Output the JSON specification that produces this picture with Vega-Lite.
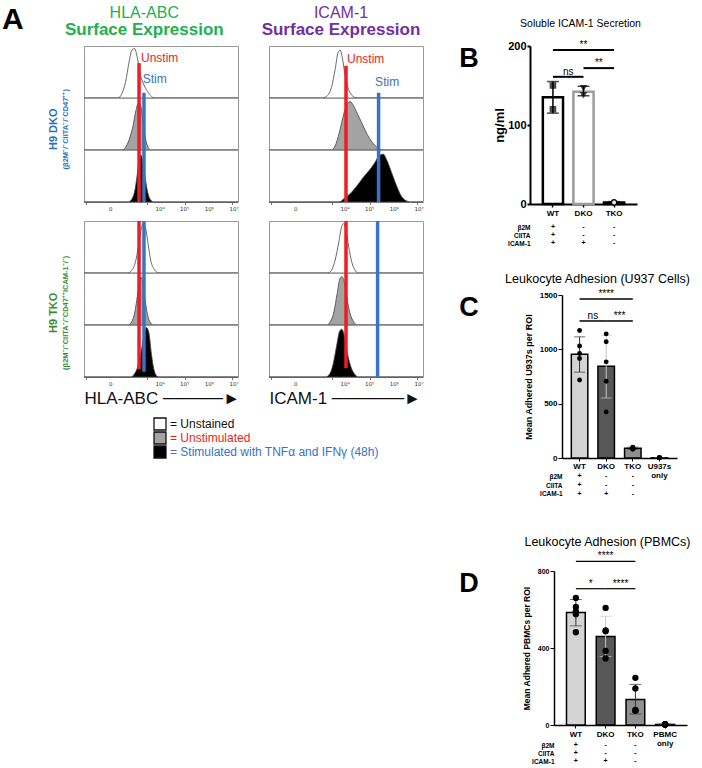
{
 "$schema": "https://vega.github.io/schema/vega-lite/v6.json",
 "background": "white",
 "padding": {"left": 2, "top": 4, "right": 0, "bottom": 0},
 "config": {
  "font": "Liberation Sans",
  "view": {"stroke": null},
  "axis": {"grid": false, "domainColor": "#000", "tickColor": "#000", "labelColor": "#000", "titleColor": "#000", "labelFont": "Liberation Sans", "titleFont": "Liberation Sans"},
  "title": {"font": "Liberation Sans", "color": "#000", "subtitleFont": "Liberation Sans"}
 },
 "spacing": 32,
 "resolve": {"scale": {"x": "independent", "y": "independent"}},
 "hconcat": [
  {
   "title": {"text": "A", "orient": "left", "angle": 0, "anchor": "end", "align": "right", "baseline": "top", "fontSize": 30, "fontWeight": "bold", "offset": 3},
   "spacing": 16,
   "hconcat": [
    {
     "title": {"text": "HLA-ABC", "subtitle": "Surface Expression", "fontSize": 16, "fontWeight": "normal", "color": "#23b14d", "subtitleFontSize": 17, "subtitleFontWeight": "bold", "subtitleColor": "#23b14d", "subtitlePadding": 1, "offset": 8, "anchor": "middle", "dx": -2},
     "spacing": 5,
     "vconcat": [
      {
       "data": {"name": "hla_dko"},
       "title": {"text": "H9 DKO", "subtitle": "(β2M⁻/⁻CIITA⁻/⁻CD47⁺⁺)", "orient": "left", "anchor": "middle", "fontSize": 11, "fontWeight": "bold", "color": "#2a70c0", "subtitleFontSize": 7.5, "subtitleFontWeight": "bold", "subtitleColor": "#2a70c0", "offset": 12},
       "spacing": {"row": 0},
       "bounds": "flush",
       "facet": {"row": {"field": "cond", "type": "nominal", "sort": ["Unstained", "Unstimulated", "Stimulated"], "header": null, "title": null}},
       "spec": {
        "width": 154, "height": 52,
        "view": {"stroke": "#9a9a9a", "strokeWidth": 1},
        "layer": [
         {"transform": [{"filter": "datum.kind === 'c'"}],
          "mark": {"type": "area", "interpolate": "monotone", "stroke": "#444", "strokeWidth": 0.8},
          "encoding": {
           "x": {"field": "u", "type": "quantitative", "scale": {"domain": [-1.08, 5.16], "nice": false, "zero": false},
                 "axis": {"values": [-1,-0.85,-0.7,-0.55,-0.4,-0.25,-0.1,0,0.15,0.3,0.45,0.6,0.75,0.9,1.0,1.3,1.48,1.6,1.7,1.78,1.85,1.9,1.95,2,2.3,2.48,2.6,2.7,2.78,2.85,2.9,2.95,3,3.3,3.48,3.6,3.7,3.78,3.85,3.9,3.95,4,4.3,4.48,4.6,4.7,4.78,4.85,4.9,4.95,5],
                  "labels": false, "tickSize": 2.5, "tickColor": "#333", "tickWidth": 0.7, "domain": false, "title": null}},
           "y": {"field": "d", "type": "quantitative", "scale": {"domain": [0, 1], "nice": false}, "axis": null},
           "fill": {"field": "cond", "type": "nominal", "scale": {"domain": ["Unstained", "Unstimulated", "Stimulated"], "range": ["#ffffff", "#a3a3a3", "#000000"]},
                    "legend": {"title": null, "orient": "none", "legendX": 69, "legendY": 371, "direction": "vertical", "labelExpr": "datum.label === 'Stimulated' ? '= Stimulated with TNFα and IFNγ (48h)' : '= ' + datum.label", "labelFontSize": 12, "labelFont": "Liberation Sans", "labelLimit": 0, "symbolType": "square", "symbolSize": 144, "symbolStrokeWidth": 1.3, "symbolStrokeColor": "#111", "rowPadding": 0, "clipHeight": 14, "labelOffset": 3, "padding": 0,
                               "encode": {"labels": {"update": {"fill": {"signal": "datum.value === 'Unstimulated' ? '#ee1c24' : datum.value === 'Stimulated' ? '#3a72c4' : '#111'"}}}}}},
           "strokeDash": {"field": "cond", "type": "nominal", "scale": {"domain": ["Unstained", "Unstimulated", "Stimulated"], "range": [[2, 1.5], [1, 0], [1, 0]]},
                    "legend": {"title": null, "orient": "none", "legendX": 69, "legendY": 371, "direction": "vertical", "labelExpr": "datum.label === 'Stimulated' ? '= Stimulated with TNFα and IFNγ (48h)' : '= ' + datum.label", "labelFontSize": 12, "labelFont": "Liberation Sans", "labelLimit": 0, "symbolType": "square", "symbolSize": 144, "symbolStrokeWidth": 1.3, "symbolStrokeColor": "#111", "rowPadding": 0, "clipHeight": 14, "labelOffset": 3, "padding": 0,
                               "encode": {"labels": {"update": {"fill": {"signal": "datum.value === 'Unstimulated' ? '#ee1c24' : datum.value === 'Stimulated' ? '#3a72c4' : '#111'"}}}}}}
          }},
         {"transform": [{"filter": "datum.kind === 'ru'"}], "mark": {"type": "rule", "color": "#ee1c24", "strokeWidth": 3.5},
          "encoding": {"x": {"field": "u", "type": "quantitative"}, "y": {"field": "lo", "type": "quantitative"}, "y2": {"field": "hi"}}},
         {"transform": [{"filter": "datum.kind === 'rs'"}], "mark": {"type": "rule", "color": "#3a72c4", "strokeWidth": 3.5},
          "encoding": {"x": {"field": "u", "type": "quantitative"}, "y": {"field": "lo", "type": "quantitative"}, "y2": {"field": "hi"}}},
         {"transform": [{"filter": "datum.kind === 'lu'"}], "mark": {"type": "text", "align": "left", "baseline": "middle", "fontSize": 12, "color": "#ee1c24"},
          "encoding": {"x": {"field": "u", "type": "quantitative"}, "y": {"field": "d", "type": "quantitative"}, "text": {"field": "t"}}},
         {"transform": [{"filter": "datum.kind === 'ls'"}], "mark": {"type": "text", "align": "left", "baseline": "middle", "fontSize": 12, "color": "#3a72c4"},
          "encoding": {"x": {"field": "u", "type": "quantitative"}, "y": {"field": "d", "type": "quantitative"}, "text": {"field": "t"}}},
         {"transform": [{"filter": "datum.kind === 'tl'"}], "mark": {"type": "text", "align": "center", "baseline": "top", "dy": 5, "fontSize": 5.5, "font": "DejaVu Sans", "color": "#333"},
          "encoding": {"x": {"field": "u", "type": "quantitative"}, "y": {"datum": 0, "type": "quantitative"}, "text": {"field": "t"}}}
        ]
       }
      },
      {
       "data": {"name": "hla_tko"},
       "title": {"text": "H9 TKO", "subtitle": "(β2M⁻/⁻CIITA⁻/⁻CD47⁺⁺ICAM-1⁻/⁻)", "orient": "left", "anchor": "middle", "fontSize": 11, "fontWeight": "bold", "color": "#3b8c2f", "subtitleFontSize": 7.5, "subtitleFontWeight": "bold", "subtitleColor": "#3b8c2f", "offset": 12},
       "spacing": {"row": 0},
       "bounds": "flush",
       "facet": {"row": {"field": "cond", "type": "nominal", "sort": ["Unstained", "Unstimulated", "Stimulated"], "header": null, "title": null}},
       "spec": {
        "width": 154, "height": 52,
        "view": {"stroke": "#9a9a9a", "strokeWidth": 1},
        "layer": [
         {"transform": [{"filter": "datum.kind === 'c'"}],
          "mark": {"type": "area", "interpolate": "monotone", "stroke": "#444", "strokeWidth": 0.8},
          "encoding": {
           "x": {"field": "u", "type": "quantitative", "scale": {"domain": [-1.08, 5.16], "nice": false, "zero": false},
                 "axis": {"values": [-1,-0.85,-0.7,-0.55,-0.4,-0.25,-0.1,0,0.15,0.3,0.45,0.6,0.75,0.9,1.0,1.3,1.48,1.6,1.7,1.78,1.85,1.9,1.95,2,2.3,2.48,2.6,2.7,2.78,2.85,2.9,2.95,3,3.3,3.48,3.6,3.7,3.78,3.85,3.9,3.95,4,4.3,4.48,4.6,4.7,4.78,4.85,4.9,4.95,5],
                  "labels": false, "tickSize": 2.5, "tickColor": "#333", "tickWidth": 0.7, "domain": false,
                  "title": "HLA-ABC  ─────►", "titleFontSize": 17, "titleFontWeight": "normal", "titleAnchor": "start", "titlePadding": 11, "titleColor": "#111"}},
           "y": {"field": "d", "type": "quantitative", "scale": {"domain": [0, 1], "nice": false}, "axis": null},
           "fill": {"field": "cond", "type": "nominal", "scale": {"domain": ["Unstained", "Unstimulated", "Stimulated"], "range": ["#ffffff", "#a3a3a3", "#000000"]},
                    "legend": {"title": null, "orient": "none", "legendX": 69, "legendY": 371, "direction": "vertical", "labelExpr": "datum.label === 'Stimulated' ? '= Stimulated with TNFα and IFNγ (48h)' : '= ' + datum.label", "labelFontSize": 12, "labelFont": "Liberation Sans", "labelLimit": 0, "symbolType": "square", "symbolSize": 144, "symbolStrokeWidth": 1.3, "symbolStrokeColor": "#111", "rowPadding": 0, "clipHeight": 14, "labelOffset": 3, "padding": 0,
                               "encode": {"labels": {"update": {"fill": {"signal": "datum.value === 'Unstimulated' ? '#ee1c24' : datum.value === 'Stimulated' ? '#3a72c4' : '#111'"}}}}}},
           "strokeDash": {"field": "cond", "type": "nominal", "scale": {"domain": ["Unstained", "Unstimulated", "Stimulated"], "range": [[2, 1.5], [1, 0], [1, 0]]},
                    "legend": {"title": null, "orient": "none", "legendX": 69, "legendY": 371, "direction": "vertical", "labelExpr": "datum.label === 'Stimulated' ? '= Stimulated with TNFα and IFNγ (48h)' : '= ' + datum.label", "labelFontSize": 12, "labelFont": "Liberation Sans", "labelLimit": 0, "symbolType": "square", "symbolSize": 144, "symbolStrokeWidth": 1.3, "symbolStrokeColor": "#111", "rowPadding": 0, "clipHeight": 14, "labelOffset": 3, "padding": 0,
                               "encode": {"labels": {"update": {"fill": {"signal": "datum.value === 'Unstimulated' ? '#ee1c24' : datum.value === 'Stimulated' ? '#3a72c4' : '#111'"}}}}}}
          }},
         {"transform": [{"filter": "datum.kind === 'ru'"}], "mark": {"type": "rule", "color": "#ee1c24", "strokeWidth": 3.5},
          "encoding": {"x": {"field": "u", "type": "quantitative"}, "y": {"field": "lo", "type": "quantitative"}, "y2": {"field": "hi"}}},
         {"transform": [{"filter": "datum.kind === 'rs'"}], "mark": {"type": "rule", "color": "#3a72c4", "strokeWidth": 3.5},
          "encoding": {"x": {"field": "u", "type": "quantitative"}, "y": {"field": "lo", "type": "quantitative"}, "y2": {"field": "hi"}}},
         {"transform": [{"filter": "datum.kind === 'tl'"}], "mark": {"type": "text", "align": "center", "baseline": "top", "dy": 5, "fontSize": 5.5, "font": "DejaVu Sans", "color": "#333"},
          "encoding": {"x": {"field": "u", "type": "quantitative"}, "y": {"datum": 0, "type": "quantitative"}, "text": {"field": "t"}}}
        ]
       }
      }
     ]
    },
    {
     "title": {"text": "ICAM-1", "subtitle": "Surface Expression", "fontSize": 16, "fontWeight": "normal", "color": "#7030a0", "subtitleFontSize": 17, "subtitleFontWeight": "bold", "subtitleColor": "#7030a0", "subtitlePadding": 1, "offset": 8, "anchor": "middle", "dx": -5},
     "spacing": 5,
     "vconcat": [
      {
       "data": {"name": "icam_dko"},
       "spacing": {"row": 0},
       "bounds": "flush",
       "facet": {"row": {"field": "cond", "type": "nominal", "sort": ["Unstained", "Unstimulated", "Stimulated"], "header": null, "title": null}},
       "spec": {
        "width": 154, "height": 52,
        "view": {"stroke": "#9a9a9a", "strokeWidth": 1},
        "layer": [
         {"transform": [{"filter": "datum.kind === 'c'"}],
          "mark": {"type": "area", "interpolate": "monotone", "stroke": "#444", "strokeWidth": 0.8},
          "encoding": {
           "x": {"field": "u", "type": "quantitative", "scale": {"domain": [-1.08, 5.16], "nice": false, "zero": false},
                 "axis": {"values": [-1,-0.85,-0.7,-0.55,-0.4,-0.25,-0.1,0,0.15,0.3,0.45,0.6,0.75,0.9,1.0,1.3,1.48,1.6,1.7,1.78,1.85,1.9,1.95,2,2.3,2.48,2.6,2.7,2.78,2.85,2.9,2.95,3,3.3,3.48,3.6,3.7,3.78,3.85,3.9,3.95,4,4.3,4.48,4.6,4.7,4.78,4.85,4.9,4.95,5],
                  "labels": false, "tickSize": 2.5, "tickColor": "#333", "tickWidth": 0.7, "domain": false, "title": null}},
           "y": {"field": "d", "type": "quantitative", "scale": {"domain": [0, 1], "nice": false}, "axis": null},
           "fill": {"field": "cond", "type": "nominal", "scale": {"domain": ["Unstained", "Unstimulated", "Stimulated"], "range": ["#ffffff", "#a3a3a3", "#000000"]},
                    "legend": {"title": null, "orient": "none", "legendX": 69, "legendY": 371, "direction": "vertical", "labelExpr": "datum.label === 'Stimulated' ? '= Stimulated with TNFα and IFNγ (48h)' : '= ' + datum.label", "labelFontSize": 12, "labelFont": "Liberation Sans", "labelLimit": 0, "symbolType": "square", "symbolSize": 144, "symbolStrokeWidth": 1.3, "symbolStrokeColor": "#111", "rowPadding": 0, "clipHeight": 14, "labelOffset": 3, "padding": 0,
                               "encode": {"labels": {"update": {"fill": {"signal": "datum.value === 'Unstimulated' ? '#ee1c24' : datum.value === 'Stimulated' ? '#3a72c4' : '#111'"}}}}}},
           "strokeDash": {"field": "cond", "type": "nominal", "scale": {"domain": ["Unstained", "Unstimulated", "Stimulated"], "range": [[2, 1.5], [1, 0], [1, 0]]},
                    "legend": {"title": null, "orient": "none", "legendX": 69, "legendY": 371, "direction": "vertical", "labelExpr": "datum.label === 'Stimulated' ? '= Stimulated with TNFα and IFNγ (48h)' : '= ' + datum.label", "labelFontSize": 12, "labelFont": "Liberation Sans", "labelLimit": 0, "symbolType": "square", "symbolSize": 144, "symbolStrokeWidth": 1.3, "symbolStrokeColor": "#111", "rowPadding": 0, "clipHeight": 14, "labelOffset": 3, "padding": 0,
                               "encode": {"labels": {"update": {"fill": {"signal": "datum.value === 'Unstimulated' ? '#ee1c24' : datum.value === 'Stimulated' ? '#3a72c4' : '#111'"}}}}}}
          }},
         {"transform": [{"filter": "datum.kind === 'ru'"}], "mark": {"type": "rule", "color": "#ee1c24", "strokeWidth": 3.5},
          "encoding": {"x": {"field": "u", "type": "quantitative"}, "y": {"field": "lo", "type": "quantitative"}, "y2": {"field": "hi"}}},
         {"transform": [{"filter": "datum.kind === 'rs'"}], "mark": {"type": "rule", "color": "#3a72c4", "strokeWidth": 3.5},
          "encoding": {"x": {"field": "u", "type": "quantitative"}, "y": {"field": "lo", "type": "quantitative"}, "y2": {"field": "hi"}}},
         {"transform": [{"filter": "datum.kind === 'lu'"}], "mark": {"type": "text", "align": "left", "baseline": "middle", "fontSize": 12, "color": "#ee1c24"},
          "encoding": {"x": {"field": "u", "type": "quantitative"}, "y": {"field": "d", "type": "quantitative"}, "text": {"field": "t"}}},
         {"transform": [{"filter": "datum.kind === 'ls'"}], "mark": {"type": "text", "align": "left", "baseline": "middle", "fontSize": 12, "color": "#3a72c4"},
          "encoding": {"x": {"field": "u", "type": "quantitative"}, "y": {"field": "d", "type": "quantitative"}, "text": {"field": "t"}}},
         {"transform": [{"filter": "datum.kind === 'tl'"}], "mark": {"type": "text", "align": "center", "baseline": "top", "dy": 5, "fontSize": 5.5, "font": "DejaVu Sans", "color": "#333"},
          "encoding": {"x": {"field": "u", "type": "quantitative"}, "y": {"datum": 0, "type": "quantitative"}, "text": {"field": "t"}}}
        ]
       }
      },
      {
       "data": {"name": "icam_tko"},
       "spacing": {"row": 0},
       "bounds": "flush",
       "facet": {"row": {"field": "cond", "type": "nominal", "sort": ["Unstained", "Unstimulated", "Stimulated"], "header": null, "title": null}},
       "spec": {
        "width": 154, "height": 52,
        "view": {"stroke": "#9a9a9a", "strokeWidth": 1},
        "layer": [
         {"transform": [{"filter": "datum.kind === 'c'"}],
          "mark": {"type": "area", "interpolate": "monotone", "stroke": "#444", "strokeWidth": 0.8},
          "encoding": {
           "x": {"field": "u", "type": "quantitative", "scale": {"domain": [-1.08, 5.16], "nice": false, "zero": false},
                 "axis": {"values": [-1,-0.85,-0.7,-0.55,-0.4,-0.25,-0.1,0,0.15,0.3,0.45,0.6,0.75,0.9,1.0,1.3,1.48,1.6,1.7,1.78,1.85,1.9,1.95,2,2.3,2.48,2.6,2.7,2.78,2.85,2.9,2.95,3,3.3,3.48,3.6,3.7,3.78,3.85,3.9,3.95,4,4.3,4.48,4.6,4.7,4.78,4.85,4.9,4.95,5],
                  "labels": false, "tickSize": 2.5, "tickColor": "#333", "tickWidth": 0.7, "domain": false,
                  "title": "ICAM-1 ──────►", "titleFontSize": 17, "titleFontWeight": "normal", "titleAnchor": "start", "titlePadding": 11, "titleColor": "#111"}},
           "y": {"field": "d", "type": "quantitative", "scale": {"domain": [0, 1], "nice": false}, "axis": null},
           "fill": {"field": "cond", "type": "nominal", "scale": {"domain": ["Unstained", "Unstimulated", "Stimulated"], "range": ["#ffffff", "#a3a3a3", "#000000"]},
                    "legend": {"title": null, "orient": "none", "legendX": 69, "legendY": 371, "direction": "vertical", "labelExpr": "datum.label === 'Stimulated' ? '= Stimulated with TNFα and IFNγ (48h)' : '= ' + datum.label", "labelFontSize": 12, "labelFont": "Liberation Sans", "labelLimit": 0, "symbolType": "square", "symbolSize": 144, "symbolStrokeWidth": 1.3, "symbolStrokeColor": "#111", "rowPadding": 0, "clipHeight": 14, "labelOffset": 3, "padding": 0,
                               "encode": {"labels": {"update": {"fill": {"signal": "datum.value === 'Unstimulated' ? '#ee1c24' : datum.value === 'Stimulated' ? '#3a72c4' : '#111'"}}}}}},
           "strokeDash": {"field": "cond", "type": "nominal", "scale": {"domain": ["Unstained", "Unstimulated", "Stimulated"], "range": [[2, 1.5], [1, 0], [1, 0]]},
                    "legend": {"title": null, "orient": "none", "legendX": 69, "legendY": 371, "direction": "vertical", "labelExpr": "datum.label === 'Stimulated' ? '= Stimulated with TNFα and IFNγ (48h)' : '= ' + datum.label", "labelFontSize": 12, "labelFont": "Liberation Sans", "labelLimit": 0, "symbolType": "square", "symbolSize": 144, "symbolStrokeWidth": 1.3, "symbolStrokeColor": "#111", "rowPadding": 0, "clipHeight": 14, "labelOffset": 3, "padding": 0,
                               "encode": {"labels": {"update": {"fill": {"signal": "datum.value === 'Unstimulated' ? '#ee1c24' : datum.value === 'Stimulated' ? '#3a72c4' : '#111'"}}}}}}
          }},
         {"transform": [{"filter": "datum.kind === 'ru'"}], "mark": {"type": "rule", "color": "#ee1c24", "strokeWidth": 3.5},
          "encoding": {"x": {"field": "u", "type": "quantitative"}, "y": {"field": "lo", "type": "quantitative"}, "y2": {"field": "hi"}}},
         {"transform": [{"filter": "datum.kind === 'rs'"}], "mark": {"type": "rule", "color": "#3a72c4", "strokeWidth": 3.5},
          "encoding": {"x": {"field": "u", "type": "quantitative"}, "y": {"field": "lo", "type": "quantitative"}, "y2": {"field": "hi"}}},
         {"transform": [{"filter": "datum.kind === 'tl'"}], "mark": {"type": "text", "align": "center", "baseline": "top", "dy": 5, "fontSize": 5.5, "font": "DejaVu Sans", "color": "#333"},
          "encoding": {"x": {"field": "u", "type": "quantitative"}, "y": {"datum": 0, "type": "quantitative"}, "text": {"field": "t"}}}
        ]
       }
      }
     ]
    }
   ]
  },
  {
   "spacing": 37,
   "resolve": {"scale": {"x": "independent", "y": "independent", "shape": "independent"}},
   "vconcat": [
    {
     "spacing": 26,
     "resolve": {"scale": {"x": "independent", "y": "independent", "shape": "independent"}},
     "vconcat": [
      {
       "spacing": 13,
       "hconcat": [
        {"width": 22, "height": 26, "data": {"values": [{"t": "B"}]}, "mark": {"type": "text", "fontSize": 27, "fontWeight": "bold", "baseline": "middle", "align": "center"}, "encoding": {"text": {"field": "t", "type": "nominal"}}},
        {
         "spacing": 19,
         "bounds": "flush",
         "resolve": {"scale": {"y": "independent"}},
         "vconcat": [
          {
           "width": 107, "height": 158,
           "title": {"text": "Soluble ICAM-1 Secretion", "fontSize": 10.5, "fontWeight": "normal", "offset": 10, "anchor": "middle", "frame": "group", "dx": -3},
           "layer": [
            {"data": {"name": "B_bars"}, "mark": {"type": "bar", "fill": "white", "strokeWidth": 2.5},
             "encoding": {
              "x": {"field": "g", "type": "nominal", "scale": {"type": "band", "domain": ["WT", "DKO", "TKO"], "paddingInner": 0.34, "paddingOuter": 0.42}, "axis": {"title": null, "labelAngle": 0, "labelFontSize": 8, "labelFontWeight": "bold", "tickSize": 3, "domainWidth": 2, "tickWidth": 1.5, "labelPadding": 2}},
              "y": {"field": "mean", "type": "quantitative", "scale": {"domain": [0, 200], "nice": false}, "axis": {"values": [0, 50, 100, 150, 200], "format": "d", "title": "ng/ml", "titleFontSize": 13, "titleFontWeight": "bold", "labelFontSize": 11, "labelFontWeight": "bold", "domainWidth": 2, "tickWidth": 2, "tickSize": 3, "labelPadding": 1, "titlePadding": 1}},
              "stroke": {"condition": {"test": "datum.g === 'DKO'", "value": "#9b9b9b"}, "value": "#000"}
             }},
            {"data": {"name": "B_bars"}, "mark": {"type": "rule", "strokeWidth": 1.5, "color": "#000"},
             "encoding": {"x": {"field": "g", "type": "nominal", "title": null}, "y": {"field": "lo", "type": "quantitative"}, "y2": {"field": "hi"}}},
            {"data": {"name": "B_bars"}, "mark": {"type": "tick", "thickness": 1.5, "size": 12, "color": "#000"},
             "encoding": {"x": {"field": "g", "type": "nominal", "title": null}, "y": {"field": "lo", "type": "quantitative"}}},
            {"data": {"name": "B_bars"}, "mark": {"type": "tick", "thickness": 1.5, "size": 12, "color": "#000"},
             "encoding": {"x": {"field": "g", "type": "nominal", "title": null}, "y": {"field": "hi", "type": "quantitative"}}},
            {"data": {"name": "B_pts"}, "mark": {"type": "point", "filled": true, "size": 28, "strokeWidth": 1.3},
             "encoding": {"x": {"field": "g", "type": "nominal", "title": null}, "y": {"field": "v", "type": "quantitative"},
              "shape": {"field": "g", "type": "nominal", "scale": {"domain": ["WT", "DKO", "TKO"], "range": ["square", "triangle-down", "circle"]}, "legend": null},
              "fill": {"condition": {"test": "datum.g === 'TKO'", "value": "#fff"}, "value": "#000"}, "stroke": {"value": "#000"}}},
            {"data": {"name": "B_sig"}, "mark": {"type": "rule", "strokeWidth": 2, "color": "#000"},
             "encoding": {"x": {"field": "g1", "type": "nominal", "title": null}, "x2": {"field": "g2"}, "y": {"field": "y", "type": "quantitative"}}},
            {"data": {"name": "B_sig"}, "transform": [{"filter": "datum.g1 === 'WT' && datum.g2 === 'TKO'"}], "mark": {"type": "text", "baseline": "alphabetic", "dy": -2, "fontSize": 10},
             "encoding": {"x": {"field": "g1", "type": "nominal", "bandPosition": 2.015, "title": null}, "y": {"field": "y", "type": "quantitative"}, "text": {"field": "t"}}},
            {"data": {"name": "B_sig"}, "transform": [{"filter": "!(datum.g1 === 'WT' && datum.g2 === 'TKO')"}], "mark": {"type": "text", "baseline": "alphabetic", "dy": -2, "fontSize": 10},
             "encoding": {"x": {"field": "g1", "type": "nominal", "bandPosition": 1.258, "title": null}, "y": {"field": "y", "type": "quantitative"}, "text": {"field": "t"}}}
           ]
          },
          {
           "width": 107, "height": 24,
           "data": {"name": "tab"},
           "mark": {"type": "text", "fontSize": 7, "fontWeight": "bold"},
           "encoding": {
            "x": {"field": "g", "type": "nominal", "scale": {"type": "band", "domain": ["WT", "DKO", "TKO"], "paddingInner": 0.34, "paddingOuter": 0.42}, "axis": null},
            "y": {"field": "gene", "type": "nominal", "scale": {"domain": ["β2M", "CIITA", "ICAM-1"]}, "axis": {"title": null, "domain": false, "ticks": false, "labelFontSize": 6.5, "labelFontWeight": "bold", "labelPadding": 0}},
            "text": {"field": "s", "type": "nominal"}
           }
          }
         ]
        }
       ]
      },
      {
       "spacing": 24,
       "hconcat": [
        {"width": 22, "height": 26, "data": {"values": [{"t": "C"}]}, "mark": {"type": "text", "fontSize": 27, "fontWeight": "bold", "baseline": "middle", "align": "center"}, "encoding": {"text": {"field": "t", "type": "nominal"}}},
        {
         "spacing": 14,
         "bounds": "flush",
         "resolve": {"scale": {"y": "independent"}},
         "vconcat": [
          {
           "width": 115, "height": 163,
           "title": {"text": "Leukocyte Adhesion (U937 Cells)", "fontSize": 12.5, "fontWeight": "normal", "offset": 3, "anchor": "middle", "frame": "group", "dx": -22},
           "layer": [
            {"data": {"name": "C_bars"}, "mark": {"type": "bar", "stroke": "#000", "strokeWidth": 1.5},
             "encoding": {
              "x": {"field": "g", "type": "nominal", "scale": {"type": "band", "domain": ["WT", "DKO", "TKO", "U937s only"], "paddingInner": 0.38, "paddingOuter": 0.35}, "axis": {"title": null, "labelAngle": 0, "labelFontSize": 8, "labelFontWeight": "bold", "labelExpr": "split(datum.label, ' ')", "labelLineHeight": 9, "tickSize": 3, "domainWidth": 1.5, "labelPadding": 1}},
              "y": {"field": "mean", "type": "quantitative", "scale": {"domain": [0, 1500], "nice": false}, "axis": {"values": [0, 500, 1000, 1500], "format": "d", "title": "Mean Adhered U937s per ROI", "titleFontSize": 9, "titleFontWeight": "bold", "labelFontSize": 8, "labelFontWeight": "bold", "domainWidth": 1.5, "tickSize": 4, "labelPadding": 1, "titlePadding": 6}},
              "fill": {"condition": [{"test": "datum.g === 'WT'", "value": "#d4d4d4"}, {"test": "datum.g === 'DKO'", "value": "#575757"}], "value": "#8f8f8f"}
             }},
            {"data": {"name": "C_bars"}, "mark": {"type": "rule", "strokeWidth": 1},
             "encoding": {"x": {"field": "g", "type": "nominal", "title": null}, "y": {"field": "lo", "type": "quantitative"}, "y2": {"field": "hi"}, "stroke": {"condition": {"test": "datum.g === 'DKO'", "value": "#c8c8c8"}, "value": "#333"}}},
            {"data": {"name": "C_bars"}, "mark": {"type": "tick", "thickness": 1, "size": 11},
             "encoding": {"x": {"field": "g", "type": "nominal", "title": null}, "y": {"field": "lo", "type": "quantitative"}, "color": {"condition": {"test": "datum.g === 'DKO'", "value": "#c8c8c8"}, "value": "#333"}}},
            {"data": {"name": "C_bars"}, "mark": {"type": "tick", "thickness": 1, "size": 11},
             "encoding": {"x": {"field": "g", "type": "nominal", "title": null}, "y": {"field": "hi", "type": "quantitative"}, "color": {"condition": {"test": "datum.g === 'DKO'", "value": "#c8c8c8"}, "value": "#333"}}},
            {"data": {"name": "C_pts"}, "mark": {"type": "circle", "size": 24, "color": "#000", "opacity": 1},
             "encoding": {"x": {"field": "g", "type": "nominal", "title": null}, "y": {"field": "v", "type": "quantitative"}}},
            {"data": {"name": "C_sig"}, "mark": {"type": "rule", "strokeWidth": 1.5, "color": "#000"},
             "encoding": {"x": {"field": "g1", "type": "nominal", "title": null}, "x2": {"field": "g2"}, "y": {"field": "y", "type": "quantitative"}}},
            {"data": {"name": "C_sig"}, "transform": [{"filter": "datum.g1 === 'WT' && datum.g2 === 'TKO'"}], "mark": {"type": "text", "baseline": "alphabetic", "dy": -2, "fontSize": 10},
             "encoding": {"x": {"field": "g1", "type": "nominal", "bandPosition": 2.113, "title": null}, "y": {"field": "y", "type": "quantitative"}, "text": {"field": "t"}}},
            {"data": {"name": "C_sig"}, "transform": [{"filter": "!(datum.g1 === 'WT' && datum.g2 === 'TKO')"}], "mark": {"type": "text", "baseline": "alphabetic", "dy": -2, "fontSize": 10},
             "encoding": {"x": {"field": "g1", "type": "nominal", "bandPosition": 1.306, "title": null}, "y": {"field": "y", "type": "quantitative"}, "text": {"field": "t"}}}
           ]
          },
          {
           "width": 115, "height": 26,
           "data": {"name": "tab"},
           "mark": {"type": "text", "fontSize": 7, "fontWeight": "bold"},
           "encoding": {
            "x": {"field": "g", "type": "nominal", "scale": {"type": "band", "domain": ["WT", "DKO", "TKO", "U937s only"], "paddingInner": 0.38, "paddingOuter": 0.35}, "axis": null},
            "y": {"field": "gene", "type": "nominal", "scale": {"domain": ["β2M", "CIITA", "ICAM-1"]}, "axis": {"title": null, "domain": false, "ticks": false, "labelFontSize": 6.5, "labelFontWeight": "bold", "labelPadding": 0}},
            "text": {"field": "s", "type": "nominal"}
           }
          }
         ]
        }
       ]
      }
     ]
    },
    {
     "spacing": 42,
     "hconcat": [
      {"width": 22, "height": 26, "data": {"values": [{"t": "D"}]}, "mark": {"type": "text", "fontSize": 27, "fontWeight": "bold", "baseline": "middle", "align": "center"}, "encoding": {"text": {"field": "t", "type": "nominal"}}},
      {
       "spacing": 16,
       "bounds": "flush",
       "resolve": {"scale": {"y": "independent"}},
       "vconcat": [
        {
         "width": 133, "height": 154,
         "title": {"text": "Leukocyte Adhesion (PBMCs)", "fontSize": 12.5, "fontWeight": "normal", "offset": 3, "anchor": "middle", "frame": "group", "dx": -13},
         "layer": [
          {"data": {"name": "D_bars"}, "mark": {"type": "bar", "stroke": "#000", "strokeWidth": 1.5},
           "encoding": {
            "x": {"field": "g", "type": "nominal", "scale": {"type": "band", "domain": ["WT", "DKO", "TKO", "PBMC only"], "paddingInner": 0.37, "paddingOuter": 0.42}, "axis": {"title": null, "labelAngle": 0, "labelFontSize": 8, "labelFontWeight": "bold", "labelExpr": "split(datum.label, ' ')", "labelLineHeight": 9, "tickSize": 3, "domainWidth": 1.5, "labelPadding": 2}},
            "y": {"field": "mean", "type": "quantitative", "scale": {"domain": [0, 800], "nice": false}, "axis": {"values": [0, 200, 400, 600, 800], "format": "d", "title": "Mean Adhered PBMCs per ROI", "titleFontSize": 8.5, "titleFontWeight": "bold", "labelFontSize": 7, "labelFontWeight": "bold", "domainWidth": 1.5, "tickSize": 4, "labelPadding": 1, "titlePadding": 6}},
            "fill": {"condition": [{"test": "datum.g === 'WT'", "value": "#d4d4d4"}, {"test": "datum.g === 'DKO'", "value": "#575757"}], "value": "#8f8f8f"}
           }},
          {"data": {"name": "D_bars"}, "mark": {"type": "rule", "strokeWidth": 1},
           "encoding": {"x": {"field": "g", "type": "nominal", "title": null}, "y": {"field": "lo", "type": "quantitative"}, "y2": {"field": "hi"}, "stroke": {"condition": {"test": "datum.g === 'DKO'", "value": "#c8c8c8"}, "value": "#333"}}},
          {"data": {"name": "D_bars"}, "mark": {"type": "tick", "thickness": 1, "size": 12},
           "encoding": {"x": {"field": "g", "type": "nominal", "title": null}, "y": {"field": "lo", "type": "quantitative"}, "color": {"condition": {"test": "datum.g === 'DKO'", "value": "#c8c8c8"}, "value": "#333"}}},
          {"data": {"name": "D_bars"}, "mark": {"type": "tick", "thickness": 1, "size": 12},
           "encoding": {"x": {"field": "g", "type": "nominal", "title": null}, "y": {"field": "hi", "type": "quantitative"}, "color": {"condition": {"test": "datum.g === 'DKO'", "value": "#c8c8c8"}, "value": "#333"}}},
          {"data": {"name": "D_pts"}, "mark": {"type": "circle", "size": 40, "color": "#000", "opacity": 1},
           "encoding": {"x": {"field": "g", "type": "nominal", "title": null}, "y": {"field": "v", "type": "quantitative"}}},
          {"data": {"name": "D_sig"}, "mark": {"type": "rule", "strokeWidth": 1.2, "color": "#000"},
           "encoding": {"x": {"field": "g1", "type": "nominal", "title": null}, "x2": {"field": "g2"}, "y": {"field": "y", "type": "quantitative"}}},
          {"data": {"name": "D_sig"}, "transform": [{"filter": "datum.g1 === 'WT' && datum.g2 === 'TKO'"}], "mark": {"type": "text", "baseline": "alphabetic", "dy": -2, "fontSize": 10, "color": "#000"},
           "encoding": {"x": {"field": "g1", "type": "nominal", "bandPosition": 2.087, "title": null}, "y": {"field": "y", "type": "quantitative"}, "text": {"field": "t"}}},
          {"data": {"name": "D_sig"}, "transform": [{"filter": "!(datum.g1 === 'WT' && datum.g2 === 'TKO')"}], "mark": {"type": "text", "baseline": "alphabetic", "dy": -2, "fontSize": 10, "color": "#000"},
           "encoding": {"x": {"field": "g1", "type": "nominal", "bandPosition": 1.294, "title": null}, "y": {"field": "y", "type": "quantitative"}, "text": {"field": "t"}}}
         ]
        },
        {
         "width": 133, "height": 24,
         "data": {"name": "tab"},
         "mark": {"type": "text", "fontSize": 7, "fontWeight": "bold"},
         "encoding": {
          "x": {"field": "g", "type": "nominal", "scale": {"type": "band", "domain": ["WT", "DKO", "TKO", "PBMC only"], "paddingInner": 0.37, "paddingOuter": 0.42}, "axis": null},
          "y": {"field": "gene", "type": "nominal", "scale": {"domain": ["β2M", "CIITA", "ICAM-1"]}, "axis": {"title": null, "domain": false, "ticks": false, "labelFontSize": 6.5, "labelFontWeight": "bold", "labelPadding": 0}},
          "text": {"field": "s", "type": "nominal"}
         }
        }
       ]
      }
     ]
    }
   ]
  }
 ],
 "datasets": {
  "hla_dko": [
   {"kind":"c","cond":"Unstained","u":-1.08,"d":0},{"kind":"c","cond":"Unstained","u":0.3,"d":0},{"kind":"c","cond":"Unstained","u":0.45,"d":0.08},{"kind":"c","cond":"Unstained","u":0.6,"d":0.3},{"kind":"c","cond":"Unstained","u":0.75,"d":0.7},{"kind":"c","cond":"Unstained","u":0.87,"d":0.93},{"kind":"c","cond":"Unstained","u":0.97,"d":0.95},{"kind":"c","cond":"Unstained","u":1.07,"d":0.8},{"kind":"c","cond":"Unstained","u":1.2,"d":0.45},{"kind":"c","cond":"Unstained","u":1.35,"d":0.25},{"kind":"c","cond":"Unstained","u":1.5,"d":0.12},{"kind":"c","cond":"Unstained","u":1.65,"d":0.03},{"kind":"c","cond":"Unstained","u":1.8,"d":0},{"kind":"c","cond":"Unstained","u":5.16,"d":0},
   {"kind":"c","cond":"Unstimulated","u":-1.08,"d":0},{"kind":"c","cond":"Unstimulated","u":0.45,"d":0},{"kind":"c","cond":"Unstimulated","u":0.6,"d":0.05},{"kind":"c","cond":"Unstimulated","u":0.75,"d":0.2},{"kind":"c","cond":"Unstimulated","u":0.9,"d":0.45},{"kind":"c","cond":"Unstimulated","u":1.02,"d":0.75},{"kind":"c","cond":"Unstimulated","u":1.12,"d":0.9},{"kind":"c","cond":"Unstimulated","u":1.22,"d":0.85},{"kind":"c","cond":"Unstimulated","u":1.32,"d":0.5},{"kind":"c","cond":"Unstimulated","u":1.42,"d":0.2},{"kind":"c","cond":"Unstimulated","u":1.52,"d":0.05},{"kind":"c","cond":"Unstimulated","u":1.62,"d":0},{"kind":"c","cond":"Unstimulated","u":5.16,"d":0},
   {"kind":"c","cond":"Stimulated","u":-1.08,"d":0},{"kind":"c","cond":"Stimulated","u":0.7,"d":0},{"kind":"c","cond":"Stimulated","u":0.85,"d":0.05},{"kind":"c","cond":"Stimulated","u":0.97,"d":0.2},{"kind":"c","cond":"Stimulated","u":1.07,"d":0.5},{"kind":"c","cond":"Stimulated","u":1.15,"d":0.8},{"kind":"c","cond":"Stimulated","u":1.23,"d":0.9},{"kind":"c","cond":"Stimulated","u":1.32,"d":0.75},{"kind":"c","cond":"Stimulated","u":1.42,"d":0.4},{"kind":"c","cond":"Stimulated","u":1.52,"d":0.15},{"kind":"c","cond":"Stimulated","u":1.62,"d":0.04},{"kind":"c","cond":"Stimulated","u":1.75,"d":0},{"kind":"c","cond":"Stimulated","u":5.16,"d":0},
   {"kind":"ru","cond":"Unstained","u":1.15,"lo":0,"hi":0.67},{"kind":"ru","cond":"Unstimulated","u":1.15,"lo":0,"hi":1},{"kind":"ru","cond":"Stimulated","u":1.15,"lo":0,"hi":1},
   {"kind":"rs","cond":"Unstained","u":1.35,"lo":0,"hi":0.1},{"kind":"rs","cond":"Unstimulated","u":1.35,"lo":0,"hi":1},{"kind":"rs","cond":"Stimulated","u":1.35,"lo":0,"hi":1},
   {"kind":"lu","cond":"Unstained","u":1.23,"d":0.77,"t":"Unstim"},{"kind":"ls","cond":"Unstained","u":1.3,"d":0.37,"t":"Stim"},
   {"kind":"tl","cond":"Stimulated","u":0,"t":"0"},{"kind":"tl","cond":"Stimulated","u":2,"t":"10⁴"},{"kind":"tl","cond":"Stimulated","u":3,"t":"10⁵"},{"kind":"tl","cond":"Stimulated","u":4,"t":"10⁶"},{"kind":"tl","cond":"Stimulated","u":5,"t":"10⁷"}
  ],
  "hla_tko": [
   {"kind":"c","cond":"Unstained","u":-1.08,"d":0},{"kind":"c","cond":"Unstained","u":0.7,"d":0},{"kind":"c","cond":"Unstained","u":0.85,"d":0.05},{"kind":"c","cond":"Unstained","u":1.0,"d":0.2},{"kind":"c","cond":"Unstained","u":1.12,"d":0.5},{"kind":"c","cond":"Unstained","u":1.22,"d":0.8},{"kind":"c","cond":"Unstained","u":1.32,"d":0.95},{"kind":"c","cond":"Unstained","u":1.42,"d":0.85},{"kind":"c","cond":"Unstained","u":1.52,"d":0.55},{"kind":"c","cond":"Unstained","u":1.62,"d":0.25},{"kind":"c","cond":"Unstained","u":1.75,"d":0.08},{"kind":"c","cond":"Unstained","u":1.9,"d":0.01},{"kind":"c","cond":"Unstained","u":2.0,"d":0},{"kind":"c","cond":"Unstained","u":5.16,"d":0},
   {"kind":"c","cond":"Unstimulated","u":-1.08,"d":0},{"kind":"c","cond":"Unstimulated","u":0.7,"d":0},{"kind":"c","cond":"Unstimulated","u":0.85,"d":0.06},{"kind":"c","cond":"Unstimulated","u":0.98,"d":0.25},{"kind":"c","cond":"Unstimulated","u":1.08,"d":0.55},{"kind":"c","cond":"Unstimulated","u":1.17,"d":0.85},{"kind":"c","cond":"Unstimulated","u":1.24,"d":0.92},{"kind":"c","cond":"Unstimulated","u":1.32,"d":0.75},{"kind":"c","cond":"Unstimulated","u":1.42,"d":0.4},{"kind":"c","cond":"Unstimulated","u":1.52,"d":0.15},{"kind":"c","cond":"Unstimulated","u":1.62,"d":0.04},{"kind":"c","cond":"Unstimulated","u":1.75,"d":0},{"kind":"c","cond":"Unstimulated","u":5.16,"d":0},
   {"kind":"c","cond":"Stimulated","u":-1.08,"d":0},{"kind":"c","cond":"Stimulated","u":0.8,"d":0},{"kind":"c","cond":"Stimulated","u":0.95,"d":0.05},{"kind":"c","cond":"Stimulated","u":1.1,"d":0.2},{"kind":"c","cond":"Stimulated","u":1.22,"d":0.45},{"kind":"c","cond":"Stimulated","u":1.35,"d":0.8},{"kind":"c","cond":"Stimulated","u":1.45,"d":0.95},{"kind":"c","cond":"Stimulated","u":1.55,"d":0.85},{"kind":"c","cond":"Stimulated","u":1.65,"d":0.45},{"kind":"c","cond":"Stimulated","u":1.75,"d":0.15},{"kind":"c","cond":"Stimulated","u":1.85,"d":0.03},{"kind":"c","cond":"Stimulated","u":1.95,"d":0},{"kind":"c","cond":"Stimulated","u":5.16,"d":0},
   {"kind":"ru","cond":"Unstained","u":1.15,"lo":0,"hi":1},{"kind":"ru","cond":"Unstimulated","u":1.15,"lo":0,"hi":1},{"kind":"ru","cond":"Stimulated","u":1.15,"lo":0.15,"hi":1},
   {"kind":"rs","cond":"Unstained","u":1.35,"lo":0,"hi":1},{"kind":"rs","cond":"Unstimulated","u":1.35,"lo":0,"hi":1},{"kind":"rs","cond":"Stimulated","u":1.35,"lo":0.1,"hi":1},
   {"kind":"tl","cond":"Stimulated","u":0,"t":"0"},{"kind":"tl","cond":"Stimulated","u":2,"t":"10⁴"},{"kind":"tl","cond":"Stimulated","u":3,"t":"10⁵"},{"kind":"tl","cond":"Stimulated","u":4,"t":"10⁶"},{"kind":"tl","cond":"Stimulated","u":5,"t":"10⁷"}
  ],
  "icam_dko": [
   {"kind":"c","cond":"Unstained","u":-1.08,"d":0},{"kind":"c","cond":"Unstained","u":1.1,"d":0},{"kind":"c","cond":"Unstained","u":1.3,"d":0.05},{"kind":"c","cond":"Unstained","u":1.45,"d":0.2},{"kind":"c","cond":"Unstained","u":1.6,"d":0.55},{"kind":"c","cond":"Unstained","u":1.72,"d":0.88},{"kind":"c","cond":"Unstained","u":1.8,"d":0.92},{"kind":"c","cond":"Unstained","u":1.88,"d":0.8},{"kind":"c","cond":"Unstained","u":2.0,"d":0.45},{"kind":"c","cond":"Unstained","u":2.12,"d":0.2},{"kind":"c","cond":"Unstained","u":2.25,"d":0.07},{"kind":"c","cond":"Unstained","u":2.4,"d":0.01},{"kind":"c","cond":"Unstained","u":2.55,"d":0},{"kind":"c","cond":"Unstained","u":5.16,"d":0},
   {"kind":"c","cond":"Unstimulated","u":-1.08,"d":0},{"kind":"c","cond":"Unstimulated","u":1.45,"d":0},{"kind":"c","cond":"Unstimulated","u":1.6,"d":0.08},{"kind":"c","cond":"Unstimulated","u":1.75,"d":0.3},{"kind":"c","cond":"Unstimulated","u":1.9,"d":0.6},{"kind":"c","cond":"Unstimulated","u":2.05,"d":0.85},{"kind":"c","cond":"Unstimulated","u":2.2,"d":0.93},{"kind":"c","cond":"Unstimulated","u":2.35,"d":0.85},{"kind":"c","cond":"Unstimulated","u":2.5,"d":0.7},{"kind":"c","cond":"Unstimulated","u":2.7,"d":0.5},{"kind":"c","cond":"Unstimulated","u":2.9,"d":0.3},{"kind":"c","cond":"Unstimulated","u":3.1,"d":0.15},{"kind":"c","cond":"Unstimulated","u":3.3,"d":0.05},{"kind":"c","cond":"Unstimulated","u":3.5,"d":0},{"kind":"c","cond":"Unstimulated","u":5.16,"d":0},
   {"kind":"c","cond":"Stimulated","u":-1.08,"d":0},{"kind":"c","cond":"Stimulated","u":1.75,"d":0},{"kind":"c","cond":"Stimulated","u":2.0,"d":0.08},{"kind":"c","cond":"Stimulated","u":2.25,"d":0.18},{"kind":"c","cond":"Stimulated","u":2.5,"d":0.32},{"kind":"c","cond":"Stimulated","u":2.75,"d":0.48},{"kind":"c","cond":"Stimulated","u":3.0,"d":0.62},{"kind":"c","cond":"Stimulated","u":3.2,"d":0.75},{"kind":"c","cond":"Stimulated","u":3.4,"d":0.9},{"kind":"c","cond":"Stimulated","u":3.55,"d":0.92},{"kind":"c","cond":"Stimulated","u":3.7,"d":0.8},{"kind":"c","cond":"Stimulated","u":3.9,"d":0.55},{"kind":"c","cond":"Stimulated","u":4.1,"d":0.3},{"kind":"c","cond":"Stimulated","u":4.3,"d":0.1},{"kind":"c","cond":"Stimulated","u":4.5,"d":0.02},{"kind":"c","cond":"Stimulated","u":4.65,"d":0},{"kind":"c","cond":"Stimulated","u":5.16,"d":0},
   {"kind":"ru","cond":"Unstained","u":2.04,"lo":0,"hi":0.62},{"kind":"ru","cond":"Unstimulated","u":2.04,"lo":0,"hi":1},{"kind":"ru","cond":"Stimulated","u":2.04,"lo":0,"hi":1},
   {"kind":"rs","cond":"Unstained","u":3.36,"lo":0,"hi":0.1},{"kind":"rs","cond":"Unstimulated","u":3.36,"lo":0,"hi":1},{"kind":"rs","cond":"Stimulated","u":3.36,"lo":0,"hi":1},
   {"kind":"lu","cond":"Unstained","u":2.08,"d":0.75,"t":"Unstim"},{"kind":"ls","cond":"Unstained","u":3.22,"d":0.3,"t":"Stim"},
   {"kind":"tl","cond":"Stimulated","u":0,"t":"0"},{"kind":"tl","cond":"Stimulated","u":2,"t":"10⁴"},{"kind":"tl","cond":"Stimulated","u":3,"t":"10⁵"},{"kind":"tl","cond":"Stimulated","u":4,"t":"10⁶"},{"kind":"tl","cond":"Stimulated","u":5,"t":"10⁷"}
  ],
  "icam_tko": [
   {"kind":"c","cond":"Unstained","u":-1.08,"d":0},{"kind":"c","cond":"Unstained","u":1.3,"d":0},{"kind":"c","cond":"Unstained","u":1.45,"d":0.05},{"kind":"c","cond":"Unstained","u":1.6,"d":0.25},{"kind":"c","cond":"Unstained","u":1.75,"d":0.6},{"kind":"c","cond":"Unstained","u":1.87,"d":0.9},{"kind":"c","cond":"Unstained","u":1.95,"d":0.95},{"kind":"c","cond":"Unstained","u":2.05,"d":0.8},{"kind":"c","cond":"Unstained","u":2.15,"d":0.5},{"kind":"c","cond":"Unstained","u":2.28,"d":0.2},{"kind":"c","cond":"Unstained","u":2.4,"d":0.06},{"kind":"c","cond":"Unstained","u":2.55,"d":0},{"kind":"c","cond":"Unstained","u":5.16,"d":0},
   {"kind":"c","cond":"Unstimulated","u":-1.08,"d":0},{"kind":"c","cond":"Unstimulated","u":1.25,"d":0},{"kind":"c","cond":"Unstimulated","u":1.4,"d":0.06},{"kind":"c","cond":"Unstimulated","u":1.55,"d":0.25},{"kind":"c","cond":"Unstimulated","u":1.68,"d":0.6},{"kind":"c","cond":"Unstimulated","u":1.8,"d":0.9},{"kind":"c","cond":"Unstimulated","u":1.88,"d":0.93},{"kind":"c","cond":"Unstimulated","u":1.98,"d":0.8},{"kind":"c","cond":"Unstimulated","u":2.1,"d":0.45},{"kind":"c","cond":"Unstimulated","u":2.22,"d":0.2},{"kind":"c","cond":"Unstimulated","u":2.35,"d":0.06},{"kind":"c","cond":"Unstimulated","u":2.5,"d":0},{"kind":"c","cond":"Unstimulated","u":5.16,"d":0},
   {"kind":"c","cond":"Stimulated","u":-1.08,"d":0},{"kind":"c","cond":"Stimulated","u":1.2,"d":0},{"kind":"c","cond":"Stimulated","u":1.38,"d":0.06},{"kind":"c","cond":"Stimulated","u":1.52,"d":0.25},{"kind":"c","cond":"Stimulated","u":1.66,"d":0.6},{"kind":"c","cond":"Stimulated","u":1.78,"d":0.88},{"kind":"c","cond":"Stimulated","u":1.87,"d":0.92},{"kind":"c","cond":"Stimulated","u":1.97,"d":0.8},{"kind":"c","cond":"Stimulated","u":2.1,"d":0.45},{"kind":"c","cond":"Stimulated","u":2.25,"d":0.18},{"kind":"c","cond":"Stimulated","u":2.4,"d":0.05},{"kind":"c","cond":"Stimulated","u":2.55,"d":0},{"kind":"c","cond":"Stimulated","u":5.16,"d":0},
   {"kind":"ru","cond":"Unstained","u":2.04,"lo":0,"hi":1},{"kind":"ru","cond":"Unstimulated","u":2.04,"lo":0,"hi":1},{"kind":"ru","cond":"Stimulated","u":2.04,"lo":0.17,"hi":1},
   {"kind":"rs","cond":"Unstained","u":3.32,"lo":0,"hi":1},{"kind":"rs","cond":"Unstimulated","u":3.32,"lo":0,"hi":1},{"kind":"rs","cond":"Stimulated","u":3.32,"lo":0,"hi":1},
   {"kind":"tl","cond":"Stimulated","u":0,"t":"0"},{"kind":"tl","cond":"Stimulated","u":2,"t":"10⁴"},{"kind":"tl","cond":"Stimulated","u":3,"t":"10⁵"},{"kind":"tl","cond":"Stimulated","u":4,"t":"10⁶"},{"kind":"tl","cond":"Stimulated","u":5,"t":"10⁷"}
  ],
  "B_bars": [{"g":"WT","mean":135,"lo":115,"hi":155},{"g":"DKO","mean":142,"lo":137,"hi":149},{"g":"TKO","mean":2,"lo":1,"hi":3}],
  "B_pts": [{"g":"WT","v":150},{"g":"WT","v":120},{"g":"DKO","v":147},{"g":"DKO","v":138},{"g":"TKO","v":2},{"g":"TKO","v":2}],
  "B_sig": [{"g1":"WT","g2":"TKO","y":195,"t":"**"},{"g1":"DKO","g2":"TKO","y":172,"t":"**"},{"g1":"WT","g2":"DKO","y":161,"t":"ns"}],
  "C_bars": [{"g":"WT","mean":955,"lo":790,"hi":1115},{"g":"DKO","mean":845,"lo":552,"hi":1130},{"g":"TKO","mean":90,"lo":80,"hi":100},{"g":"U937s only","mean":2,"lo":0,"hi":4}],
  "C_pts": [{"g":"WT","v":1173},{"g":"WT","v":1030},{"g":"WT","v":961},{"g":"WT","v":915},{"g":"WT","v":718},{"g":"DKO","v":1142},{"g":"DKO","v":1070},{"g":"DKO","v":885},{"g":"DKO","v":706},{"g":"DKO","v":424},{"g":"TKO","v":100},{"g":"TKO","v":95},{"g":"TKO","v":90},{"g":"TKO","v":85},{"g":"TKO","v":80},{"g":"U937s only","v":2},{"g":"U937s only","v":3},{"g":"U937s only","v":1},{"g":"U937s only","v":2},{"g":"U937s only","v":3}],
  "C_sig": [{"g1":"WT","g2":"TKO","y":1464,"t":"****"},{"g1":"WT","g2":"DKO","y":1261,"t":"ns"},{"g1":"DKO","g2":"TKO","y":1261,"t":"***"}],
  "D_bars": [{"g":"WT","mean":584,"lo":515,"hi":652},{"g":"DKO","mean":460,"lo":356,"hi":565},{"g":"TKO","mean":132,"lo":57,"hi":211},{"g":"PBMC only","mean":3,"lo":1,"hi":5}],
  "D_pts": [{"g":"WT","v":660},{"g":"WT","v":613},{"g":"WT","v":590},{"g":"WT","v":575},{"g":"WT","v":482},{"g":"DKO","v":608},{"g":"DKO","v":492},{"g":"DKO","v":487},{"g":"DKO","v":385},{"g":"DKO","v":346},{"g":"TKO","v":245},{"g":"TKO","v":190},{"g":"TKO","v":78},{"g":"TKO","v":74},{"g":"TKO","v":74},{"g":"PBMC only","v":3},{"g":"PBMC only","v":4},{"g":"PBMC only","v":2},{"g":"PBMC only","v":3},{"g":"PBMC only","v":2}],
  "D_sig": [{"g1":"WT","g2":"TKO","y":850,"t":"****"},{"g1":"WT","g2":"DKO","y":708,"t":"*"},{"g1":"DKO","g2":"TKO","y":708,"t":"****"}],
  "tab": [{"g":"WT","gene":"β2M","s":"+"},{"g":"DKO","gene":"β2M","s":"-"},{"g":"TKO","gene":"β2M","s":"-"},{"g":"WT","gene":"CIITA","s":"+"},{"g":"DKO","gene":"CIITA","s":"-"},{"g":"TKO","gene":"CIITA","s":"-"},{"g":"WT","gene":"ICAM-1","s":"+"},{"g":"DKO","gene":"ICAM-1","s":"+"},{"g":"TKO","gene":"ICAM-1","s":"-"}]
 }
}
